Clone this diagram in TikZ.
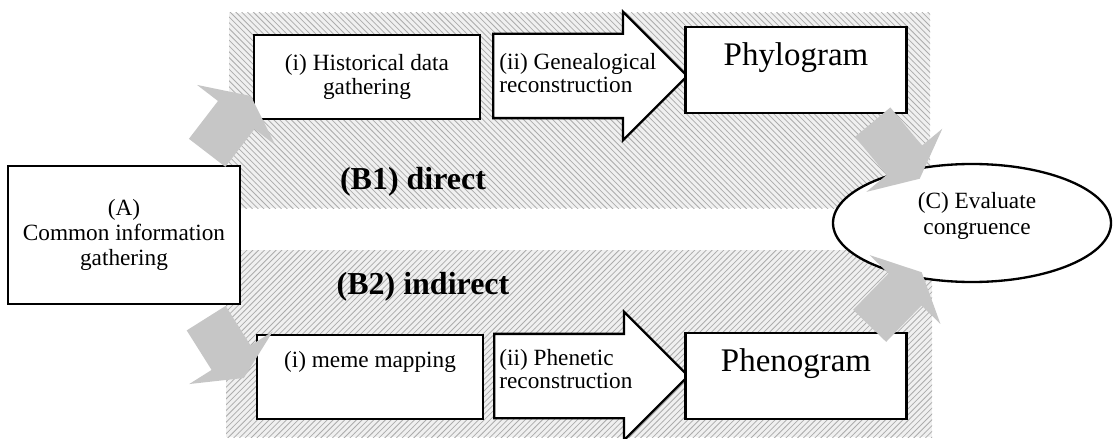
\documentclass[tikz,border=0pt]{standalone}
\usepackage{fontspec}
\setmainfont{Liberation Serif}
\usetikzlibrary{shapes.geometric,shapes.arrows,patterns,arrows.meta}

\newcommand\pxu{0.516pt}

\tikzset{
  band/.style={preaction={fill=gray!12}, pattern color=gray!65},
  plaintxt/.style={font=\fontsize{12}{12}\selectfont, align=center, inner sep=0pt},
  stagebox/.style={draw, line width=1.2pt, fill=white, inner sep=0pt, plaintxt},
  treebox/.style={stagebox, minimum width=221*\pxu, minimum height=86*\pxu},
  treetxt/.style={font=\fontsize{17}{20}\selectfont, inner sep=0pt},
  pathlabel/.style={font=\fontsize{16.5}{19}\selectfont\bfseries, inner sep=0pt},
  stagearrow/.style={single arrow, draw, line width=1.2pt, fill=white, inner sep=0pt,
    text height=41*\pxu, text depth=41*\pxu,
    minimum height=194*\pxu, minimum width=127*\pxu, single arrow head extend=22*\pxu},
  flowarrow/.style={line width=46*\pxu, gray!45, -{Triangle[width=98*\pxu, length=24*\pxu]}}
}

\begin{document}
\begin{tikzpicture}[x=\pxu, y=-\pxu]
  \useasboundingbox (0,0) rectangle (1113,439);

  % hatched bands
  \fill[band, pattern=north west lines] (229,13) rectangle (930,208);
  \fill[band, pattern=north east lines] (226,250) rectangle (932,437);
  \node[pathlabel] (b1) at (413,182) {(B1) direct};
  \node[pathlabel] (b2) at (423,287) {(B2) indirect};

  % common start
  \node[stagebox, font=\fontsize{12}{13}\selectfont, minimum width=232*\pxu, minimum height=138*\pxu]
    (A) at (124,235) {(A)\\Common information\\gathering};

  % upper row
  \node[stagebox, minimum width=226*\pxu, minimum height=84*\pxu] (hist) at (367,77) {(i) Historical data\\gathering};
  \node[stagearrow, anchor=tail] (gen) at (492,76) {};
  \node[plaintxt, anchor=west, align=left] (gentxt) at (499,73) {(ii) Genealogical\\reconstruction};
  \node[treebox] (phylo) at (796,70) {};
  \node[treetxt] (phylotxt) at (796,58) {Phylogram};

  % lower row
  \node[stagebox, minimum width=226*\pxu, minimum height=84*\pxu] (meme) at (370,377) {};
  \node[plaintxt] (memetxt) at (370,362) {(i) meme mapping};
  \node[stagearrow, anchor=tail] (phen) at (493,376) {};
  \node[plaintxt, anchor=west, align=left] (phentxt) at (499,369) {(ii) Phenetic\\reconstruction};
  \node[treebox] (pheno) at (796,376) {};
  \node[treetxt] (phenotxt) at (796,364) {Phenogram};

  % evaluation
  \node[ellipse, draw, line width=1.2pt, fill=white, minimum width=278*\pxu, minimum height=118*\pxu] (C) at (972,223) {};
  \node[plaintxt, font=\fontsize{12}{13}\selectfont] (Ctxt) at (977,216) {(C) Evaluate\\congruence};

  % shaded arrows
  \draw[flowarrow] ([shift={(-34,-12)}]A.north east) -- ([shift={(-2,19)}]hist.west);
  \draw[flowarrow] ([shift={(-35,13)}]A.south east) -- ([shift={(-12,1)}]meme.west);
  \draw[flowarrow] ([shift={(-35,8)}]phylo.south east) -- ([shift={(3,11)}]C.135);
  \draw[flowarrow] ([shift={(-38,-6)}]pheno.north east) -- ([shift={(5,-6)}]C.225);
\end{tikzpicture}
\end{document}
